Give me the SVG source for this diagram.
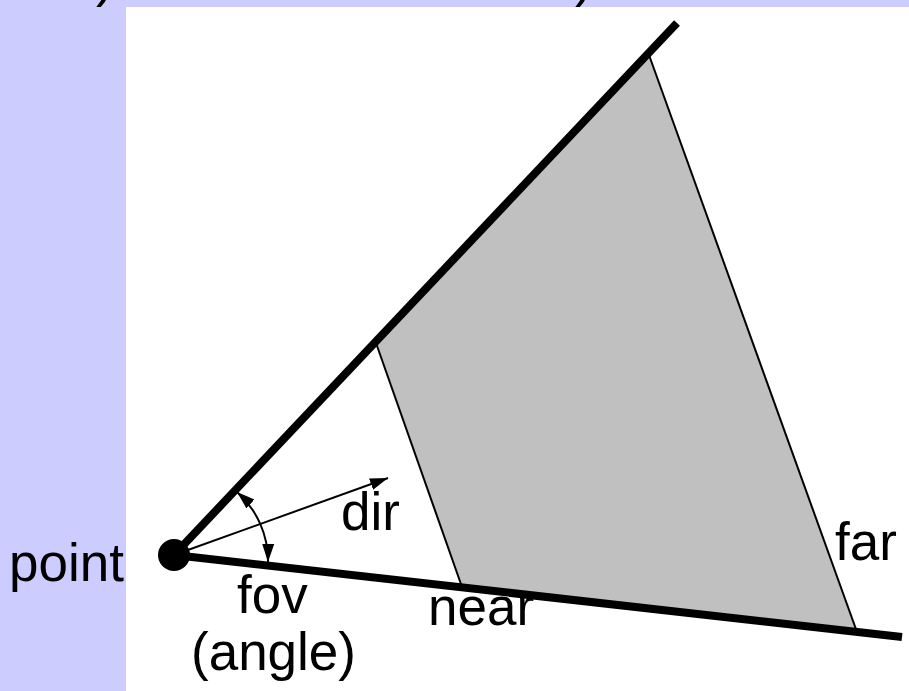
<svg xmlns="http://www.w3.org/2000/svg" width="909" height="691" viewBox="0 0 909 691">
<defs>
<style>
.lbl{font-family:"Liberation Sans",Arial,sans-serif;font-size:53px;fill:#000}
.thick{stroke:#000;stroke-width:8;fill:none}
.thin{stroke:#000;stroke-width:2;fill:none}
</style>
<marker id="ah" markerUnits="userSpaceOnUse" markerWidth="20" markerHeight="14" refX="18" refY="7" orient="auto-start-reverse" viewBox="0 0 20 14">
<path d="M0,1 L18,7 L0,13 Z" fill="#000"/>
</marker>
</defs>
<rect x="0" y="0" width="909" height="691" fill="#CCCCFF"/>
<rect x="126" y="7" width="783" height="684" fill="#FFFFFF"/>
<text class="lbl" x="96" y="-4">)</text>
<text class="lbl" x="575" y="-4">)</text>
<g id="frustum">
<polygon points="376,343 649,55 857,632 462,587" fill="#C0C0C0"/>
</g>
<g id="connectors">
<line class="thin" x1="376" y1="343" x2="462" y2="587"/>
<line class="thin" x1="649" y1="55" x2="857" y2="632"/>
<line class="thick" x1="174" y1="555" x2="677" y2="23"/>
<line class="thick" x1="174" y1="555" x2="902" y2="637"/>
<line class="thin" x1="174" y1="555" x2="388" y2="478" marker-end="url(#ah)"/>
<path class="thin" d="M237,492 A92,92 0 0 1 268,562" marker-start="url(#ah)" marker-end="url(#ah)"/>
</g>
<g id="point">
<circle cx="174" cy="555" r="16" fill="#000"/>
<text class="lbl" x="9" y="581">point</text>
</g>
<g id="dir"><text class="lbl" x="341" y="530">dir</text></g>
<g id="fov"><text class="lbl" x="237" y="613">fov</text>
<text class="lbl" x="191" y="670">(angle)</text></g>
<g id="near"><text class="lbl" x="428" y="625">near</text></g>
<g id="far"><text class="lbl" x="835" y="560">far</text></g>
</svg>
